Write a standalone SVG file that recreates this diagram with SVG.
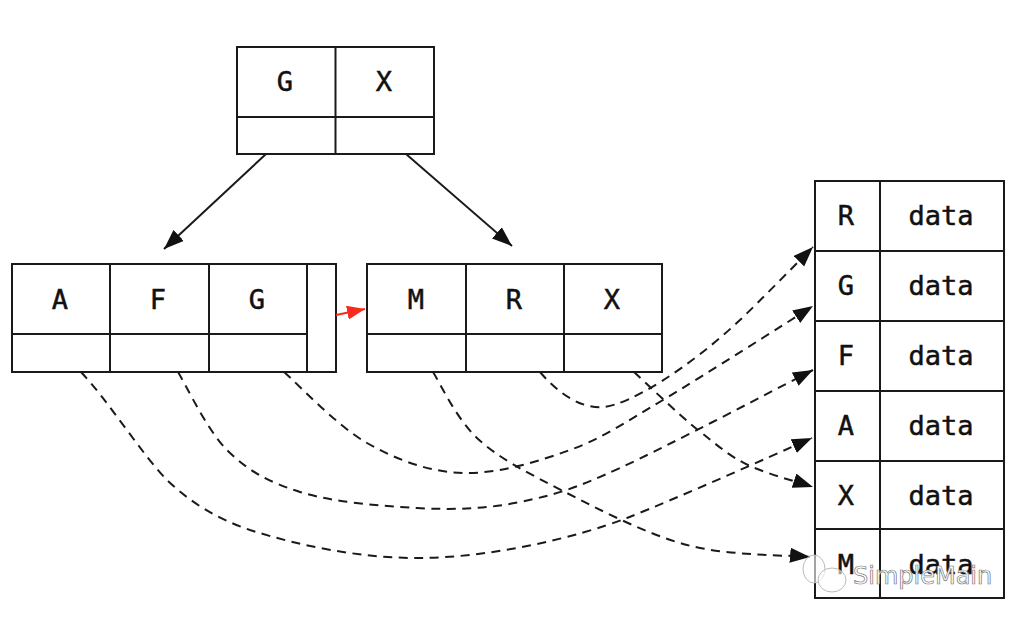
<svg xmlns="http://www.w3.org/2000/svg" width="1024" height="623" viewBox="0 0 1024 623">
<style>
.b{fill:#fff;stroke:#1a1a1a;stroke-width:2}
.l{fill:none;stroke:#1a1a1a;stroke-width:2}
.t{font-family:"DejaVu Sans Mono","Liberation Mono",monospace;font-size:27px;fill:#111;stroke:#111;stroke-width:.5;text-anchor:middle}
.c{fill:none;stroke:#1a1a1a;stroke-width:2}
.d{stroke-dasharray:9 6.500}
.w{font-family:"DejaVu Sans","Liberation Sans",sans-serif;font-size:24px;fill:#fff;stroke:#777;stroke-width:.7;text-anchor:start}
.i{fill:#fff;fill-opacity:.6;stroke:#bbb;stroke-width:1}
</style>
<defs>
<marker id="a" markerUnits="userSpaceOnUse" markerWidth="22" markerHeight="18" refX="20" refY="7.500" orient="auto"><path d="M0 0L20 7.500L0 15Z" fill="#111"/></marker>
<marker id="r" markerUnits="userSpaceOnUse" markerWidth="22" markerHeight="18" refX="18" refY="7" orient="auto"><path d="M0 0L18 7L0 14Z" fill="#f82a1e"/></marker>
</defs>
<rect width="1024" height="623" fill="#fff"/>
<g id="root"><rect class="b" x="237" y="47" width="197" height="107"/><path class="l" d="M335.500 47V154M237 117H434"/><text class="t" x="285" y="91">G</text><text class="t" x="384" y="91">X</text></g>
<g id="leaf-left"><rect class="b" x="12" y="264" width="324" height="108"/><path class="l" d="M110 264V372M209 264V372M307 264V372M12 334H307"/><text class="t" x="60" y="309">A</text><text class="t" x="158" y="309">F</text><text class="t" x="257" y="309">G</text></g>
<g id="leaf-right"><rect class="b" x="367" y="264" width="295" height="108"/><path class="l" d="M466 264V372M564 264V372M367 334H662"/><text class="t" x="416" y="309">M</text><text class="t" x="514" y="309">R</text><text class="t" x="612" y="309">X</text></g>
<g id="table"><rect class="b" x="815" y="181" width="189" height="417"/><path class="l" d="M880 181V598M815 251H1004M815 321H1004M815 391H1004M815 461H1004M815 529H1004"/>
<text class="t" x="846" y="225">R</text><text class="t" x="941" y="225">data</text>
<text class="t" x="846" y="295">G</text><text class="t" x="941" y="295">data</text>
<text class="t" x="846" y="365">F</text><text class="t" x="941" y="365">data</text>
<text class="t" x="846" y="435">A</text><text class="t" x="941" y="435">data</text>
<text class="t" x="846" y="505">X</text><text class="t" x="941" y="505">data</text>
<text class="t" x="846" y="574">M</text><text class="t" x="941" y="574">data</text></g>
<g id="connectors">
<path class="c" marker-end="url(#a)" d="M266 154L164 249"/>
<path class="c" marker-end="url(#a)" d="M406 154L512 246"/>
<path fill="none" stroke="#f82a1e" stroke-width="2.200" marker-end="url(#r)" d="M336 315L365 309"/>
<path class="c d" marker-end="url(#a)" d="M81 372C110 403 140 452 167 480C190 502 215 518 250 530C300 546 360 558 417 558C490 558 575 538 627 518C680 497 765 459 812 438"/>
<path class="c d" marker-end="url(#a)" d="M178 372C186 385 207 430 227 450C247 470 268 482 300 492C332 502 380 506 417 508C454 510 486 509 520 502C554 495 572 490 620 468C668 446 778 388 813 370"/>
<path class="c d" marker-end="url(#a)" d="M284 372C298 384 337 426 367 443C397 460 429 472 463 473C497 474 537 462 570 450C603 438 622 424 663 400C703 376 788 322 813 306"/>
<path class="c d" marker-end="url(#a)" d="M540 372C557 392 580 409 603 407C630 405 690 367 740 320C760 301 790 270 813 247"/>
<path class="c d" marker-end="url(#a)" d="M433 372C440 383 456 418 477 438C498 458 528 473 563 491C598 509 646 534 687 545C728 556 788 555 810 557"/>
<path class="c d" marker-end="url(#a)" d="M634 372C645 382 679 415 698 430C717 445 729 456 748 465C767 474 801 483 813 487"/>
</g>
<g id="watermark"><ellipse class="i" cx="814" cy="569" rx="11" ry="14"/><ellipse class="i" cx="832" cy="580" rx="14" ry="12"/><text class="w" x="853" y="584">SimpleMain</text></g>
</svg>
